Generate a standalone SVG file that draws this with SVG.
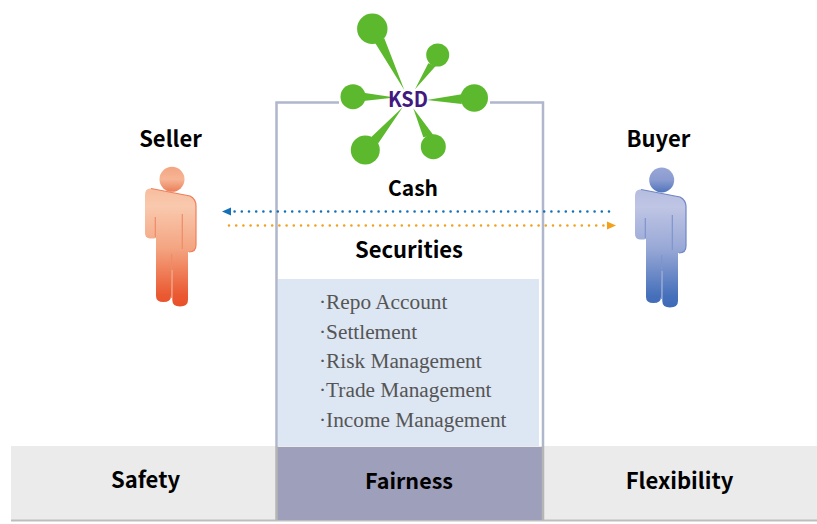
<svg xmlns="http://www.w3.org/2000/svg" width="817" height="524" viewBox="0 0 817 524">
<style>
.h{font-family:"Noto Sans CJK KR","Noto Sans",sans-serif;font-weight:700;fill:#000;text-anchor:middle}
.l{font-family:"Liberation Serif",serif;font-size:21.3px;fill:#555}
.k{fill:#5cb92d}
.f{fill:none;stroke:#b0b7cc;stroke-width:2.5}
.c{fill:none;stroke-width:2.6;stroke-linecap:round;stroke-dasharray:0 7.2}
.s{fill:none;stroke-width:1.2}
</style>
<defs>
<linearGradient id="gs" x1="0" y1="0" x2="0" y2="1"><stop offset="0" stop-color="#f7bd9f"/><stop offset="0.15" stop-color="#f9c9ae"/><stop offset="0.5" stop-color="#f4a582"/><stop offset="0.9" stop-color="#ea5a32"/><stop offset="1" stop-color="#e9502a"/></linearGradient>
<linearGradient id="gb" x1="0" y1="0" x2="0" y2="1"><stop offset="0" stop-color="#b5bde0"/><stop offset="0.15" stop-color="#bfc5e4"/><stop offset="0.5" stop-color="#98a8d6"/><stop offset="0.9" stop-color="#4670ba"/><stop offset="1" stop-color="#3f6ab8"/></linearGradient>
<linearGradient id="hs" x1="0" y1="0" x2="0" y2="1"><stop offset="0" stop-color="#f3a582"/><stop offset="0.5" stop-color="#f6b595"/><stop offset="1" stop-color="#ec7e58"/></linearGradient>
<linearGradient id="hb" x1="0" y1="0" x2="0" y2="1"><stop offset="0" stop-color="#99a6d6"/><stop offset="0.5" stop-color="#8a9bd0"/><stop offset="1" stop-color="#4f74bb"/></linearGradient>
<path id="person" d="M145 195Q145 188 151 188.500L190 196Q196 199 196 206V245Q196 252 189 252H188V300Q188 306.500 180 306.500Q172.300 306.500 172.300 300V270H171V296Q171 302 163.500 302Q156 302 156 296V238H155.500Q155 238.500 150 238.500Q145 238 145 233Z"/>
<path id="slits" d="M155.300 217V237M182.300 214V249M171.700 254V298"/>
<path id="edge" d="M151 188.500L190 196Q196 199 196 206V245Q196 252 189 252"/>
</defs>

<g id="band">
<rect x="11" y="446" width="806" height="74" fill="#ebebeb"/>
<path d="M11 520.500H817" stroke="#bdbdbd" stroke-width="2" fill="none"/>
<rect x="277" y="447" width="265" height="73" fill="#9e9fba"/>
<path d="M276.500 446V520M543 446V520" stroke="#b5b5b5" stroke-width="2.500" fill="none"/>
</g>

<g id="frame">
<path class="f" d="M339 102.500H276.500V446M490 102.500H543V446"/>
<rect x="278" y="279" width="261" height="167" fill="#dde6f3"/>
</g>

<g id="ksd">
<path class="k" d="M375 42.700L384.300 38.300L404.300 90ZM428.300 63.300L435.700 66L415 89.300ZM363.300 92.700L363.300 101L395 97.500ZM461.700 94.300L461.700 104L426.700 100ZM370 138.300L378.300 143.300L402.700 107.300ZM423.300 137.300L433.300 135L413.300 108.300Z"/>
<circle class="k" cx="372.300" cy="28.700" r="15.200"/>
<circle class="k" cx="437.700" cy="55" r="11.500"/>
<circle class="k" cx="353" cy="96.700" r="12.500"/>
<circle class="k" cx="474.300" cy="98" r="13.700"/>
<circle class="k" cx="365.300" cy="150" r="14.500"/>
<circle class="k" cx="433.300" cy="146.700" r="12.500"/>
<text x="408" y="107" text-anchor="middle" textLength="40" lengthAdjust="spacingAndGlyphs" font-family="Noto Sans CJK KR,Noto Sans,sans-serif" font-weight="700" font-size="21" fill="#41197f">KSD</text>
</g>

<g id="seller">
<text class="h" x="170.500" y="147" font-size="22">Seller</text>
<use href="#person" fill="url(#gs)"/>
<use href="#slits" class="s" stroke="#ee8c68"/>
<use href="#edge" class="s" stroke="#ee7f5a"/>
<circle cx="172" cy="179.300" r="12.500" fill="url(#hs)"/>
</g>

<g id="buyer">
<text class="h" x="658.500" y="147" font-size="22">Buyer</text>
<use href="#person" x="490" y="1" fill="url(#gb)"/>
<use href="#slits" x="490" y="1" class="s" stroke="#7f94cc"/>
<use href="#edge" x="490" y="1" class="s" stroke="#6f86c6"/>
<circle cx="661.700" cy="180" r="12.500" fill="url(#hb)"/>
</g>

<g id="connectors">
<path class="c" d="M609 211.500H230" stroke="#1470b8"/>
<path d="M231 207.500L222 211.500L231 215.500Z" fill="#1470b8"/>
<path class="c" d="M229 225.500H608" stroke="#f2a11c"/>
<path d="M607 221.500L616 225.500L607 229.500Z" fill="#f2a11c"/>
</g>

<g id="cash"><text class="h" x="413" y="196" font-size="21">Cash</text></g>
<g id="securities"><text class="h" x="409" y="258" font-size="22">Securities</text></g>

<g id="functions">
<text class="l" x="319" y="309.300">·Repo Account</text>
<text class="l" x="319" y="339">·Settlement</text>
<text class="l" x="319" y="368.300">·Risk Management</text>
<text class="l" x="319" y="397.300">·Trade Management</text>
<text class="l" x="319" y="426.700">·Income Management</text>
</g>

<g id="safety"><text class="h" x="145.500" y="488" font-size="22">Safety</text></g>
<g id="fairness"><text class="h" x="409" y="489" font-size="21.500">Fairness</text></g>
<g id="flexibility"><text class="h" x="679.500" y="489" font-size="22">Flexibility</text></g>
</svg>
